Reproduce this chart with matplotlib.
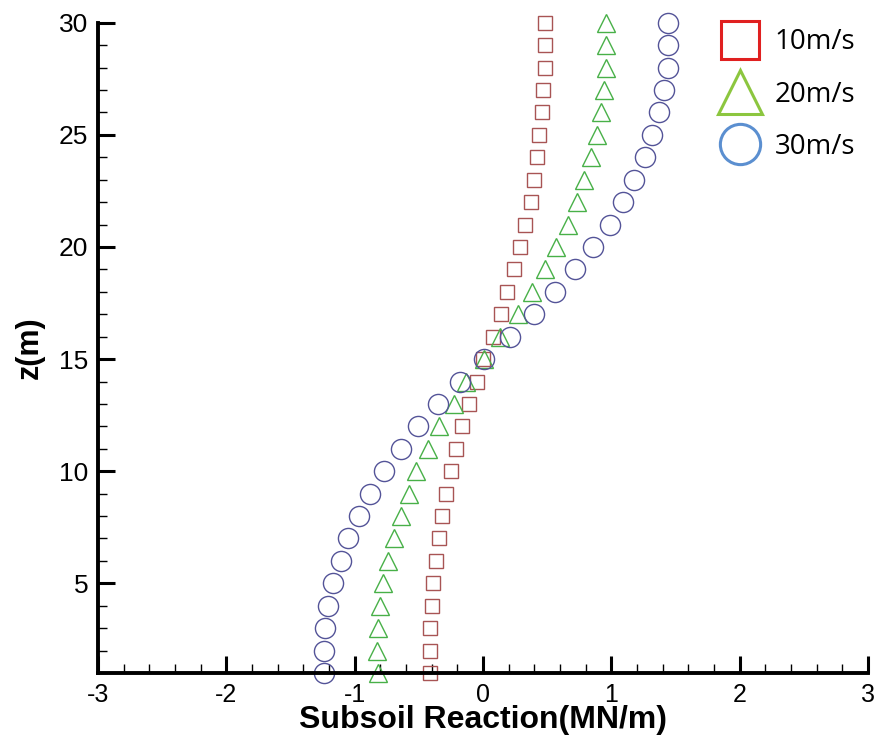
import matplotlib
matplotlib.use("Agg")
import matplotlib.pyplot as plt
from matplotlib.lines import Line2D
from matplotlib.ticker import MultipleLocator

z = list(range(30, 0, -1))

# subsoil reaction (MN/m), z = 30 down to 1
r10 = [0.48, 0.48, 0.48, 0.47, 0.46, 0.44, 0.42, 0.40, 0.37, 0.33,
       0.29, 0.24, 0.19, 0.14, 0.08, 0.00, -0.05, -0.11, -0.16, -0.21,
       -0.25, -0.29, -0.32, -0.34, -0.37, -0.39, -0.40, -0.41, -0.41, -0.41]
r20 = [0.96, 0.96, 0.96, 0.94, 0.92, 0.89, 0.84, 0.79, 0.73, 0.66,
       0.57, 0.48, 0.38, 0.27, 0.13, 0.01, -0.13, -0.23, -0.34, -0.43,
       -0.52, -0.58, -0.64, -0.69, -0.74, -0.78, -0.80, -0.82, -0.83, -0.82]
r30 = [1.44, 1.44, 1.44, 1.41, 1.37, 1.32, 1.26, 1.18, 1.09, 0.99,
       0.86, 0.72, 0.56, 0.40, 0.21, 0.01, -0.18, -0.35, -0.51, -0.64,
       -0.77, -0.88, -0.97, -1.05, -1.11, -1.17, -1.21, -1.23, -1.24, -1.24]

labels = ["10m/s", "20m/s", "30m/s"]

plt.rcParams["font.family"] = ["Liberation Sans", "DejaVu Sans"]
plt.rcParams["axes.unicode_minus"] = False

fig = plt.figure(figsize=(8.8, 7.4), dpi=100)
ax = fig.add_axes([0.1114, 0.0905, 0.875, 0.8788])

ax.plot(r10, z, "s", ms=10, mfc="none", mec="#a85454", mew=1.0, ls="none", clip_on=False)
ax.plot(r20, z, "^", ms=12.5, mfc="none", mec="#48b048", mew=1.0, ls="none", clip_on=False)
ax.plot(r30, z, "o", ms=14.5, mfc="none", mec="#545498", mew=1.0, ls="none", clip_on=False)

ax.set_xlim(-3, 3)
ax.set_ylim(1, 30)
ax.xaxis.set_major_locator(MultipleLocator(1))
ax.xaxis.set_minor_locator(MultipleLocator(0.2))
ax.yaxis.set_major_locator(MultipleLocator(5))
ax.yaxis.set_minor_locator(MultipleLocator(1))
ax.set_yticks([5, 10, 15, 20, 25, 30])

for s in ["top", "right"]:
    ax.spines[s].set_visible(False)
for s in ["left", "bottom"]:
    ax.spines[s].set_linewidth(2.8)

ax.tick_params(which="major", direction="in", length=12, width=2.2, pad=8)
ax.tick_params(which="minor", direction="in", length=6.5, width=1.0)
ax.tick_params(axis="y", which="major", labelsize=19, pad=7)
ax.tick_params(axis="x", which="major", labelsize=18, pad=7)

ax.set_xlabel("Subsoil Reaction(MN/m)", fontsize=23, fontweight="bold",
              labelpad=-1)
ax.set_ylabel("z(m)", fontsize=22, fontweight="bold", labelpad=10)

handles = [
    Line2D([], [], marker="s", ms=28, mfc="none", mec="#e02020", mew=2.2, ls="none"),
    Line2D([], [], marker="^", ms=31.5, mfc="none", mec="#8cc63f", mew=2.2, ls="none"),
    Line2D([], [], marker="o", ms=29, mfc="none", mec="#5b8fd0", mew=2.2, ls="none"),
]
ax.legend(handles, labels, loc="upper left", bbox_to_anchor=(0.79, 1.0126),
          frameon=False, borderpad=0, handlelength=1.4, handletextpad=0.55,
          labelspacing=0.87, prop={"family": ["Open Sans", "DejaVu Sans"], "size": 20})

fig.savefig("out.png", dpi=100)
